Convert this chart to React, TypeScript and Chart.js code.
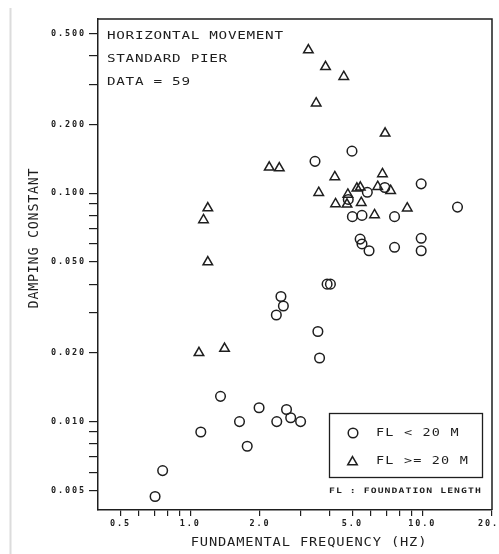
import React, { useEffect, useRef } from 'react';
import { Chart, registerables } from 'chart.js';

Chart.register(...registerables);

// ---- data ----
// FL < 20 M  (circles)
const smallFLFreq = [4.98, 3.45, 9.9, 5.8, 6.9, 4.8, 14.2, 5.0, 5.5, 7.6, 5.4, 5.5, 5.9, 7.6, 9.9, 9.9, 3.89, 4.02, 2.46, 2.52, 2.35, 3.55, 3.61, 1.35, 1.98, 2.6, 2.71, 2.99, 2.36, 1.63, 1.11, 1.76, 0.76, 0.705];
const smallFLDamp = [0.153, 0.138, 0.11, 0.101, 0.106, 0.094, 0.087, 0.079, 0.08, 0.079, 0.063, 0.06, 0.056, 0.058, 0.0635, 0.056, 0.04, 0.04, 0.0353, 0.0321, 0.0293, 0.0248, 0.019, 0.0129, 0.0115, 0.0113, 0.0104, 0.01, 0.01, 0.01, 0.009, 0.0078, 0.0061, 0.0047];
// FL >= 20 M  (triangles)
const largeFLFreq = [3.23, 3.83, 4.59, 3.49, 6.92, 2.19, 2.42, 4.2, 6.74, 3.58, 5.23, 5.41, 6.43, 7.31, 4.78, 4.23, 4.74, 5.46, 8.62, 6.23, 1.19, 1.14, 1.19, 1.09, 1.405];
const largeFLDamp = [0.424, 0.358, 0.324, 0.248, 0.183, 0.13, 0.129, 0.118, 0.1215, 0.1006, 0.1052, 0.1062, 0.1069, 0.1026, 0.0988, 0.0898, 0.0895, 0.091, 0.086, 0.0804, 0.0862, 0.0764, 0.05, 0.02, 0.0209];

const xTickValues = [0.5, 0.6, 0.7, 0.8, 0.9, 1, 2, 3, 4, 5, 6, 7, 8, 9, 10, 20];
const xTickLabelled = [0.5, 1, 2, 5, 10, 20];
const yTickValues = [0.005, 0.006, 0.007, 0.008, 0.009, 0.01, 0.02, 0.03, 0.04, 0.05, 0.06, 0.07, 0.08, 0.09, 0.1, 0.2, 0.3, 0.4, 0.5];
const yTickLabelled = [0.005, 0.01, 0.02, 0.05, 0.1, 0.2, 0.5];

const annotationLines = ['HORIZONTAL MOVEMENT', 'STANDARD PIER', 'DATA = 59'];
const legendLabels = ['FL < 20 M', 'FL >= 20 M'];
const footnote = 'FL : FOUNDATION LENGTH';
const xTitle = 'FUNDAMENTAL FREQUENCY (HZ)';
const yTitle = 'DAMPING CONSTANT';

const INK = '#1e1e1e';
const MONO = '"DejaVu Sans Mono", "Liberation Mono", monospace';

function findLabel(list: number[], v: number): number | undefined {
  return list.find((l) => Math.abs(l - v) / l < 1e-6);
}

function plotterText(
  ctx: CanvasRenderingContext2D,
  text: string,
  x: number,
  y: number,
  size: number,
  pitch: number,
  sx: number,
  align: CanvasTextAlign = 'left',
  rotate = 0,
  weight = 'normal'
) {
  ctx.save();
  ctx.translate(x, y);
  if (rotate) ctx.rotate(rotate);
  ctx.scale(sx, 1);
  ctx.font = `${weight} ${size}px ${MONO}`;
  (ctx as any).letterSpacing = '0px';
  const adv = ctx.measureText('M').width;
  (ctx as any).letterSpacing = `${pitch / sx - adv}px`;
  ctx.textAlign = align;
  ctx.textBaseline = 'middle';
  ctx.fillStyle = INK;
  ctx.fillText(text, 0, 0);
  ctx.restore();
}

const decorPlugin = {
  id: 'decor',
  beforeDraw(chart: any) {
    const ctx: CanvasRenderingContext2D = chart.ctx;
    // scanned page edge
    ctx.save();
    ctx.strokeStyle = '#dcdcdc';
    ctx.lineWidth = 2;
    ctx.beginPath();
    ctx.moveTo(10.5, 8);
    ctx.lineTo(10.5, 554);
    ctx.stroke();
    ctx.restore();
    (ctx as any).letterSpacing = '1.9px';
  },
  afterDraw(chart: any) {
    const ctx: CanvasRenderingContext2D = chart.ctx;
    const { left, right, top, bottom } = chart.chartArea;
    ctx.save();
    (ctx as any).letterSpacing = '0px';
    ctx.strokeStyle = INK;
    ctx.lineWidth = 1.5;
    ctx.beginPath();
    ctx.moveTo(left, top);
    ctx.lineTo(right, top);
    ctx.lineTo(right, bottom);
    ctx.stroke();

    // annotation block
    const annY = [36, 59.5, 82];
    annotationLines.forEach((t, i) => plotterText(ctx, t, 107, annY[i], 11, 9.3, 1.3));

    // axis titles
    plotterText(ctx, xTitle, 309, 543, 12.5, 9.1, 1.1, 'center');
    plotterText(ctx, yTitle, 34.5, 238, 14, 8.8, 0.95, 'center', -Math.PI / 2);

    // legend box
    ctx.strokeStyle = INK;
    ctx.lineWidth = 1.3;
    ctx.strokeRect(329.5, 413.5, 153, 64);
    ctx.lineWidth = 1.5;
    ctx.beginPath();
    ctx.arc(353, 433, 4.8, 0, Math.PI * 2);
    ctx.stroke();
    const r = 5.5;
    const cx = 352.5, cy = 462;
    ctx.beginPath();
    ctx.moveTo(cx, cy - r);
    ctx.lineTo(cx + r * Math.sin((2 * Math.PI) / 3), cy - r * Math.cos((2 * Math.PI) / 3));
    ctx.lineTo(cx + r * Math.sin((4 * Math.PI) / 3), cy - r * Math.cos((4 * Math.PI) / 3));
    ctx.closePath();
    ctx.stroke();
    plotterText(ctx, legendLabels[0], 376, 433, 10, 9.3, 1.35);
    plotterText(ctx, legendLabels[1], 376, 461, 10, 9.3, 1.35);
    plotterText(ctx, footnote, 329, 491, 7.5, 6.95, 1.3, 'left', 0, 'bold');
    ctx.restore();
  },
};

export default function App() {
  const ref = useRef<HTMLCanvasElement>(null);
  useEffect(() => {
    const smallPts = smallFLFreq.map((f, i) => ({ x: f, y: smallFLDamp[i] }));
    const largePts = largeFLFreq.map((f, i) => ({ x: f, y: largeFLDamp[i] }));
    const chart = new Chart(ref.current as HTMLCanvasElement, {
      type: 'scatter',
      data: {
        datasets: [
          {
            label: legendLabels[0],
            data: smallPts,
            pointStyle: 'circle',
            pointRadius: 4.8,
            pointHoverRadius: 4.8,
            borderColor: INK,
            backgroundColor: 'rgba(0,0,0,0)',
            borderWidth: 1.5,
          },
          {
            label: legendLabels[1],
            data: largePts,
            pointStyle: 'triangle',
            pointRadius: 5.5,
            pointHoverRadius: 5.5,
            borderColor: INK,
            backgroundColor: 'rgba(0,0,0,0)',
            borderWidth: 1.5,
          },
        ],
      },
      options: {
        animation: false,
        responsive: false,
        devicePixelRatio: 1,
        events: [],
        layout: { autoPadding: false, padding: { left: 0, right: 7, top: 19, bottom: 0 } },
        plugins: { legend: { display: false }, tooltip: { enabled: false }, title: { display: false } },
        scales: {
          x: {
            type: 'logarithmic',
            position: 'bottom',
            min: 0.4,
            max: 20,
            afterBuildTicks: (scale: any) => {
              scale.ticks = xTickValues.map((v) => ({ value: v }));
            },
            afterFit: (scale: any) => {
              scale.height = 44;
              scale.paddingLeft = 0;
              scale.paddingRight = 0;
            },
            ticks: {
              autoSkip: false,
              maxRotation: 0,
              minRotation: 0,
              padding: 3,
              color: INK,
              font: { family: MONO, size: 8.5, weight: 'bold' },
              callback: (value: any) => {
                const hit = findLabel(xTickLabelled, Number(value));
                return hit !== undefined ? hit.toFixed(1) : '';
              },
            },
            grid: { display: true, drawOnChartArea: false, drawTicks: true, tickLength: 6, color: INK, lineWidth: 1.2 },
            border: { display: true, color: INK, width: 1.5 },
            title: { display: false },
          },
          y: {
            type: 'logarithmic',
            position: 'left',
            min: 0.0041,
            max: 0.58,
            afterBuildTicks: (scale: any) => {
              scale.ticks = yTickValues.map((v) => ({ value: v }));
            },
            afterFit: (scale: any) => {
              scale.width = 98;
              scale.paddingTop = 0;
              scale.paddingBottom = 0;
            },
            ticks: {
              autoSkip: false,
              padding: 3,
              color: INK,
              font: { family: MONO, size: 8.5, weight: 'bold' },
              callback: (value: any) => {
                const hit = findLabel(yTickLabelled, Number(value));
                return hit !== undefined ? hit.toFixed(3) : '';
              },
            },
            grid: { display: true, drawOnChartArea: false, drawTicks: true, tickLength: 9, color: INK, lineWidth: 1.2 },
            border: { display: true, color: INK, width: 1.5 },
            title: { display: false },
          },
        },
      } as any,
      plugins: [decorPlugin],
    });
    return () => chart.destroy();
  }, []);
  return (
    <div style={{ position: 'fixed', left: 0, top: 0, width: 499, height: 554, background: '#fff' }}>
      <canvas ref={ref} width={499} height={554} style={{ display: 'block', width: 499, height: 554 }} />
    </div>
  );
}
